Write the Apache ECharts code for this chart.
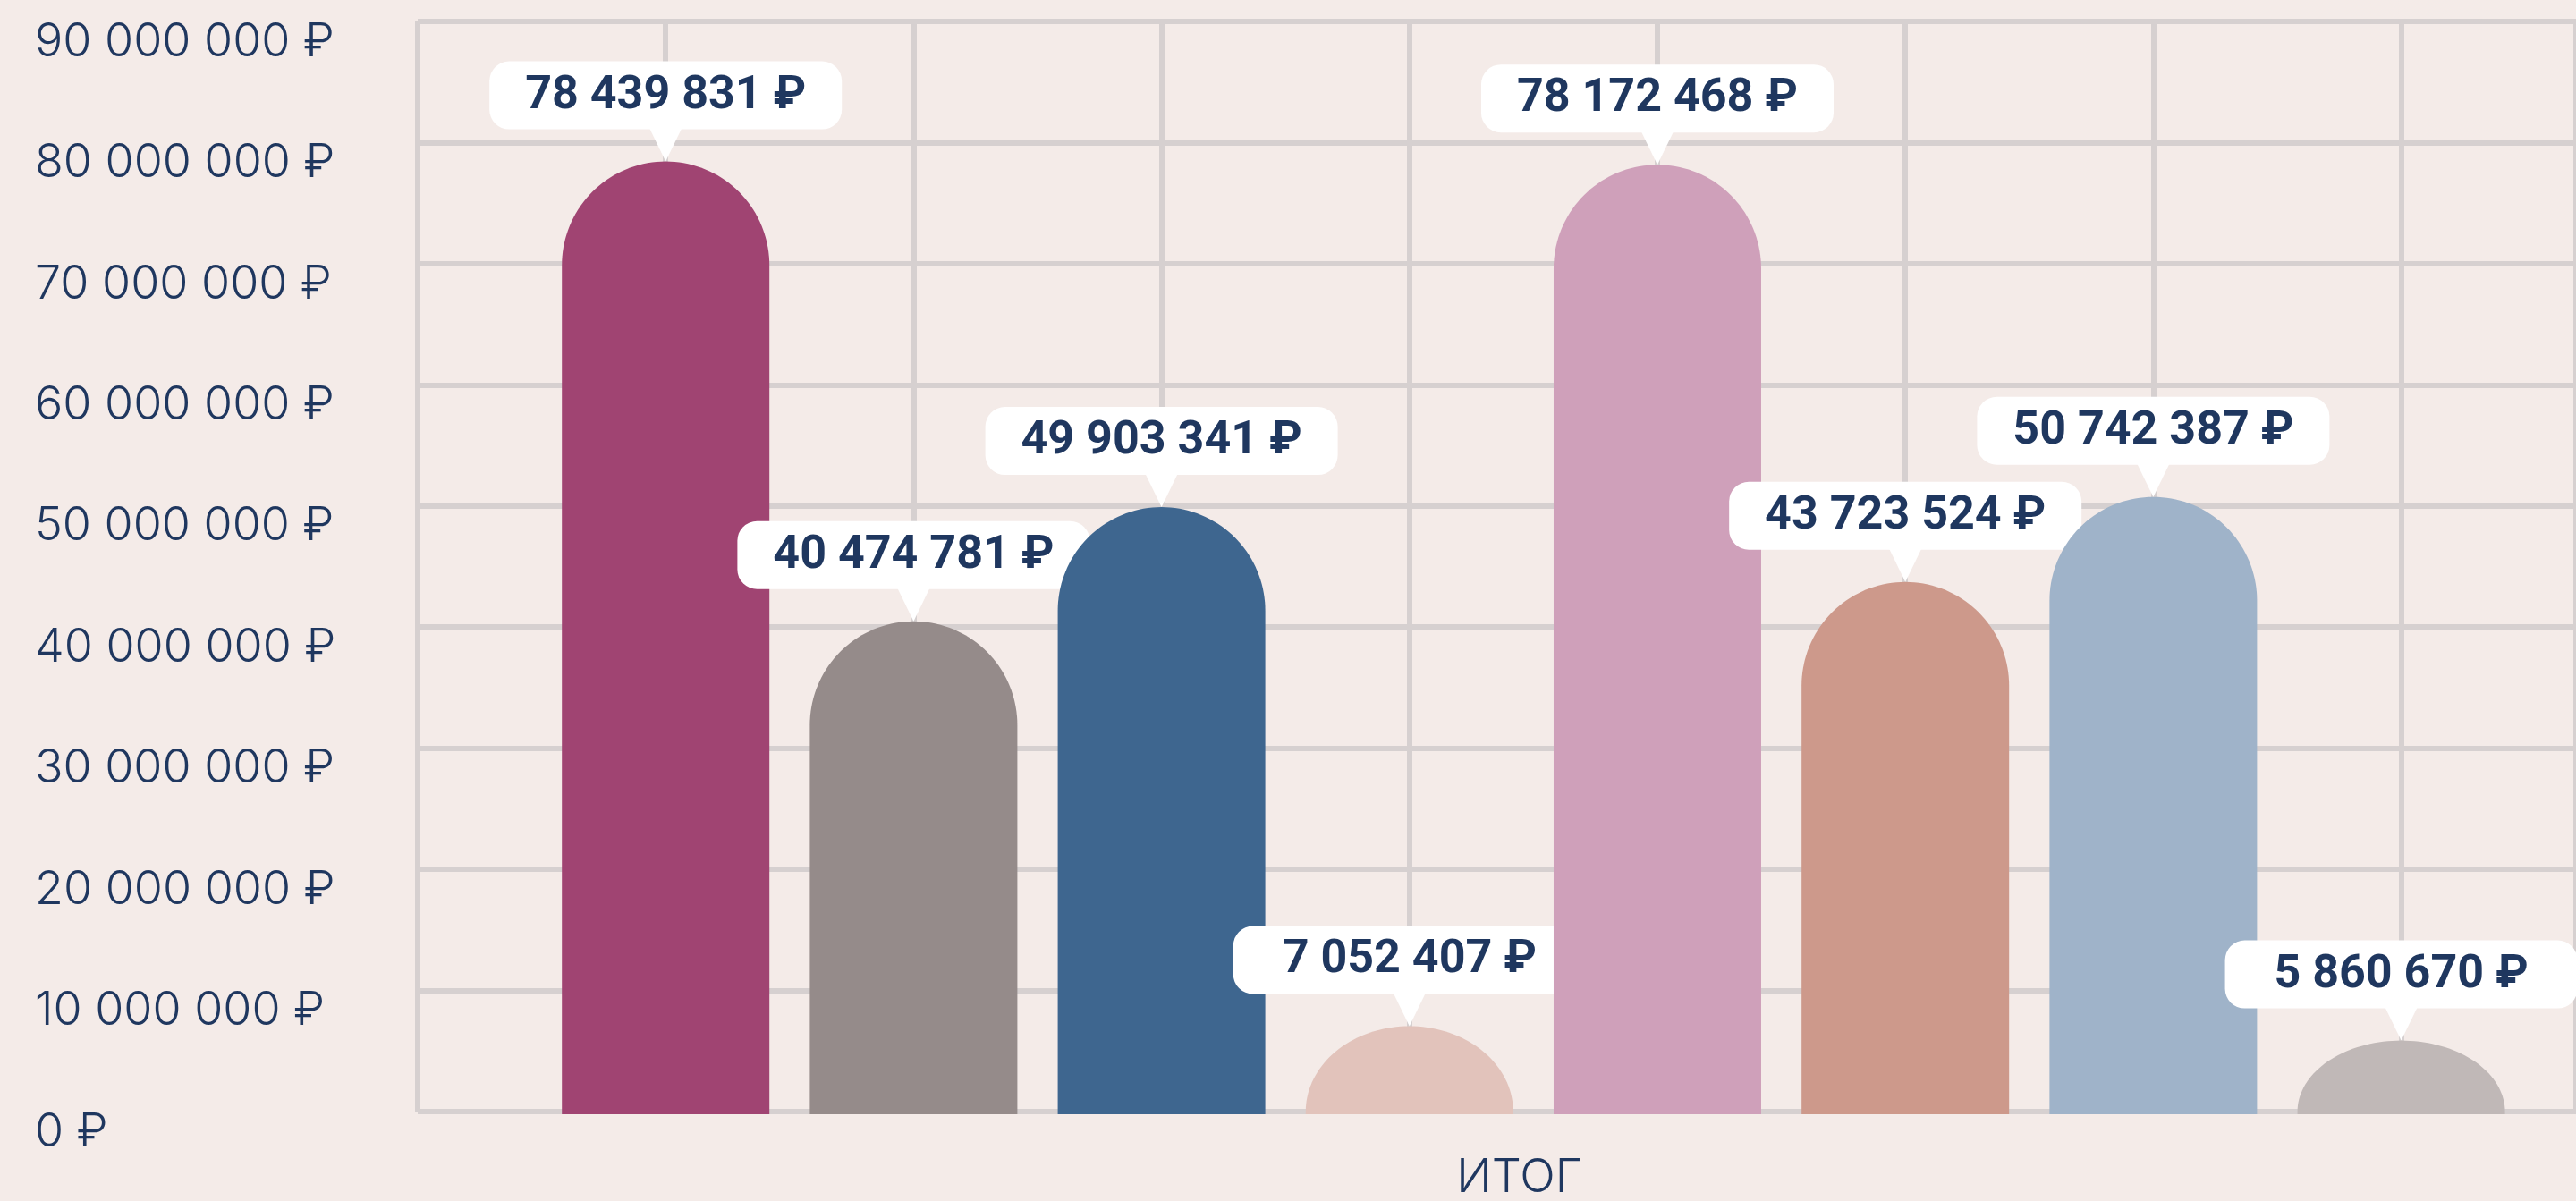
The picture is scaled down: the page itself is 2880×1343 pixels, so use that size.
<!DOCTYPE html>
<html>
<head>
<meta charset="utf-8">
<script src="https://cdn.jsdelivr.net/npm/echarts@6/dist/echarts.min.js"></script>
<style>
  html, body { margin: 0; padding: 0; background: #f4ebe8; }
  #chart { width: 2880px; height: 1343px; }
</style>
</head>
<body>
<div id="chart"></div>
<script>
// ---- data ----
const CATEGORIES = ['ИТОГ'];
const VALUES = [78439831, 40474781, 49903341, 7052407, 78172468, 43723524, 50742387, 5860670];
const COLORS = ['#a04472', '#958b8a', '#3e668f', '#e2c3bb', '#cfa0ba', '#cd998b', '#9fb3c9', '#c0b8b7'];
const Y_TICK_LABELS = ['0 ₽', '10 000 000 ₽', '20 000 000 ₽', '30 000 000 ₽', '40 000 000 ₽',
                       '50 000 000 ₽', '60 000 000 ₽', '70 000 000 ₽', '80 000 000 ₽', '90 000 000 ₽'];

// ---- style constants ----
const TEXT = '#1f375f';
const GRIDC = '#d6d0d0';
const BAR_W = 0.837;     // in slot units
const BUBBLE_W = 394, BUBBLE_H = 76, ARROW_H = 36, ARROW_W = 36;

function fmt(v) {
  return String(v).replace(/\B(?=(\d{3})+(?!\d))/g, ' ') + ' ₽';
}

const chart = echarts.init(document.getElementById('chart'), null, { renderer: 'canvas' });

function renderItem(params, api) {
  const idx = params.dataIndex;
  const pos = api.value(0), val = api.value(1);
  const top = api.coord([pos, val]);
  const base = api.coord([pos, 0]);
  const w = api.size([BAR_W, 0])[0];
  const cx = top[0];
  const L = cx - w / 2, R = cx + w / 2;
  const bottom = base[1] + 3;
  const h = base[1] - top[1];
  const rx = w / 2, ry = Math.min(rx, h);
  const pts = [[L, bottom]];
  const N = 72;
  for (let i = 0; i <= N; i++) {
    const t = Math.PI - Math.PI * i / N;
    pts.push([cx + rx * Math.cos(t), top[1] + ry - ry * Math.sin(t)]);
  }
  pts.push([R, bottom]);
  const bubbleBottom = top[1] - ARROW_H;
  const bubbleTop = bubbleBottom - BUBBLE_H;
  return {
    type: 'group',
    children: [
      { type: 'polygon', shape: { points: pts }, style: { fill: COLORS[idx] } },
      { type: 'polygon', shape: { points: [[cx - ARROW_W / 2, bubbleBottom - 1], [cx + ARROW_W / 2, bubbleBottom - 1], [cx, top[1]]] },
        style: { fill: '#ffffff' } },
      { type: 'rect', shape: { x: cx - BUBBLE_W / 2, y: bubbleTop, width: BUBBLE_W, height: BUBBLE_H, r: 22 },
        style: { fill: '#ffffff' } },
      { type: 'text', x: cx, y: bubbleTop + BUBBLE_H / 2 + 1,
        style: { text: fmt(VALUES[idx]), fill: TEXT, fontSize: 52, fontWeight: 'bold', fontFamily: 'Roboto',
                 align: 'center', verticalAlign: 'middle' } }
    ]
  };
}

const option = {
  backgroundColor: '#f4ebe8',
  animation: false,
  grid: { left: 467, right: 0, top: 24, bottom: 95, containLabel: false },
  xAxis: [
    {
      type: 'category', data: CATEGORIES, position: 'bottom',
      axisLine: { show: false }, axisTick: { show: false }, splitLine: { show: false },
      axisLabel: {
        margin: 48,
        formatter: (v) => '{s|}{a|' + v + '}',
        rich: {
          s: { width: 50 },
          a: { color: TEXT, fontSize: 52, fontFamily: 'Inter', fontWeight: 300 }
        }
      }
    },
    {
      type: 'value', min: 0, max: 8.705, interval: 1, position: 'bottom',
      axisLine: { show: false }, axisTick: { show: false }, axisLabel: { show: false },
      splitLine: { show: true, lineStyle: { color: GRIDC, width: 6 } }
    }
  ],
  yAxis: {
    type: 'value', min: 0, max: 90000000, interval: 10000000,
    axisLine: { show: false }, axisTick: { show: false },
    splitLine: { show: true, lineStyle: { color: GRIDC, width: 6 } },
    axisLabel: {
      color: TEXT, fontSize: 52, fontFamily: 'Inter', fontWeight: 300,
      align: 'left', verticalAlign: 'top', lineHeight: 46, margin: 428,
      formatter: (v) => Y_TICK_LABELS[Math.round(v / 10000000)]
    }
  },
  series: [{
    type: 'custom',
    xAxisIndex: 1, yAxisIndex: 0,
    renderItem: renderItem,
    encode: { x: 0, y: 1 },
    clip: false,
    data: VALUES.map((v, i) => [i + 1, v])
  }]
};
chart.setOption(option);
</script>
</body>
</html>
